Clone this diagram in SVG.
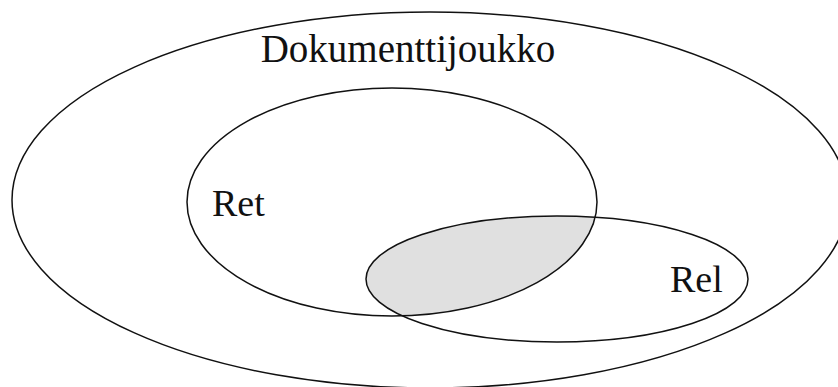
<svg xmlns="http://www.w3.org/2000/svg" width="838" height="387" viewBox="0 0 838 387">
  <style>
    .set { fill: none; stroke: #111; stroke-width: 1.5; }
    .lbl { font-family: "Liberation Serif", "Times New Roman", serif; fill: #111; }
  </style>
  <defs>
    <clipPath id="retClip">
      <ellipse cx="392" cy="202" rx="205" ry="114"/>
    </clipPath>
  </defs>
  <rect width="838" height="387" fill="#fff"/>
  <g id="intersection">
    <ellipse cx="557" cy="279" rx="191" ry="63" fill="#e0e0e0" clip-path="url(#retClip)"/>
  </g>
  <g id="dokumenttijoukko">
    <ellipse class="set" cx="430" cy="200" rx="418" ry="188"/>
    <text class="lbl" x="408" y="62" font-size="39" text-anchor="middle">Dokumenttijoukko</text>
  </g>
  <g id="ret">
    <ellipse class="set" cx="392" cy="202" rx="205" ry="114"/>
    <text class="lbl" x="212" y="216" font-size="38">Ret</text>
  </g>
  <g id="rel">
    <ellipse class="set" cx="557" cy="279" rx="191" ry="63"/>
    <text class="lbl" x="670" y="292" font-size="38">Rel</text>
  </g>
  <g id="connectors"></g>
</svg>
